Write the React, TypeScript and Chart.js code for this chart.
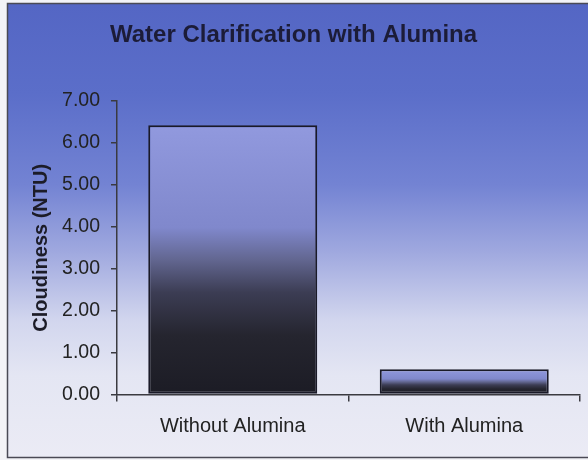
import React, { useEffect, useRef } from "react";
import { Chart, registerables } from "chart.js";

Chart.register(...registerables);

const categories = ["Without Alumina", "With Alumina"];
const cloudiness = [6.42, 0.6];
const chartTitle = "Water Clarification with Alumina";
const yAxisTitle = "Cloudiness (NTU)";
const yMin = 0;
const yMax = 7;
const yStep = 1;

const FONT = "'Liberation Sans', Arial, Helvetica, sans-serif";

const backgroundPlugin = {
  id: "frameBackground",
  beforeDraw(chart: any) {
    const { ctx, width, height } = chart;
    ctx.save();
    ctx.fillStyle = "#f3f3f7";
    ctx.fillRect(0, 0, width, height);
    const x0 = 7, y0 = 3, y1 = 457;
    const g = ctx.createLinearGradient(0, y0, 0, y1);
    g.addColorStop(0, "#5466c4");
    g.addColorStop(0.2, "#5b6ec9");
    g.addColorStop(0.4, "#7383d3");
    g.addColorStop(0.55, "#a0a9df");
    g.addColorStop(0.7, "#d2d6ee");
    g.addColorStop(0.82, "#e4e6f3");
    g.addColorStop(1, "#ebebf5");
    ctx.fillStyle = g;
    ctx.fillRect(x0, y0, width - x0 + 5, y1 - y0);
    ctx.strokeStyle = "#4a4a55";
    ctx.lineWidth = 1.5;
    ctx.strokeRect(x0 + 0.5, y0 + 0.5, width - x0 + 5, y1 - y0);
    ctx.restore();
  },
};

export default function App() {
  const canvasRef = useRef<HTMLCanvasElement | null>(null);

  useEffect(() => {
    const canvas = canvasRef.current;
    if (!canvas) return;
    const chart = new Chart(canvas, {
      type: "bar",
      data: {
        labels: categories,
        datasets: [
          {
            data: cloudiness,
            backgroundColor: (context: any) => {
              const c = context.chart;
              const { ctx, chartArea, scales } = c;
              if (!chartArea || !scales.y) return "#8a92dc";
              const v = context.raw as number;
              const top = scales.y.getPixelForValue(v);
              const bottom = scales.y.getPixelForValue(0);
              const g = ctx.createLinearGradient(0, top, 0, bottom);
              g.addColorStop(0, "#9199de");
              g.addColorStop(0.38, "#8088cc");
              g.addColorStop(0.5, "#626690");
              g.addColorStop(0.62, "#3c3d54");
              g.addColorStop(0.78, "#25252f");
              g.addColorStop(1, "#1c1c25");
              return g;
            },
            borderColor: "#1a1a28",
            borderWidth: 2,
            borderSkipped: false,
            barPercentage: 0.73,
            categoryPercentage: 1,
          },
        ],
      },
      options: {
        responsive: false,
        animation: false,
        layout: { padding: { left: 7, right: 8, top: 0, bottom: 0 } },
        plugins: {
          legend: { display: false },
          tooltip: { enabled: false },
          title: {
            display: true,
            text: chartTitle,
            color: "#1c1c38",
            font: { family: FONT, size: 24, weight: "bold" },
            padding: { top: 21, bottom: 51.2 },
          },
        },
        scales: {
          x: {
            type: "category",
            offset: true,
            afterFit: (scale: any) => {
              scale.height = 65.5;
            },
            grid: {
              display: true,
              offset: true,
              drawOnChartArea: false,
              drawTicks: true,
              tickLength: 7,
              color: "#3a3a40",
              lineWidth: 1.5,
            },
            border: { display: true, color: "#3a3a40", width: 1.5 },
            ticks: {
              color: "#222222",
              padding: 13,
              font: { family: FONT, size: 20 },
              maxRotation: 0,
            },
          },
          y: {
            min: yMin,
            max: yMax,
            afterFit: (scale: any) => {
              scale.width = 110;
            },
            grid: {
              display: true,
              drawOnChartArea: false,
              drawTicks: true,
              tickLength: 6,
              color: "#3a3a40",
              lineWidth: 1.5,
            },
            border: { display: true, color: "#3a3a40", width: 1.5 },
            ticks: {
              stepSize: yStep,
              color: "#222222",
              padding: 11,
              font: { family: FONT, size: 19.5 },
              callback: (v: any) => Number(v).toFixed(2),
            },
            title: {
              display: true,
              text: yAxisTitle,
              color: "#1c1c28",
              font: { family: FONT, size: 20, weight: "bold" },
              padding: { top: 22, bottom: 0 },
            },
          },
        },
      },
      plugins: [backgroundPlugin],
    } as any);
    return () => chart.destroy();
  }, []);

  return (
    <div style={{ position: "absolute", left: 0, top: 0, width: 588, height: 460 }}>
      <canvas ref={canvasRef} width={588} height={460} style={{ display: "block" }} />
    </div>
  );
}
